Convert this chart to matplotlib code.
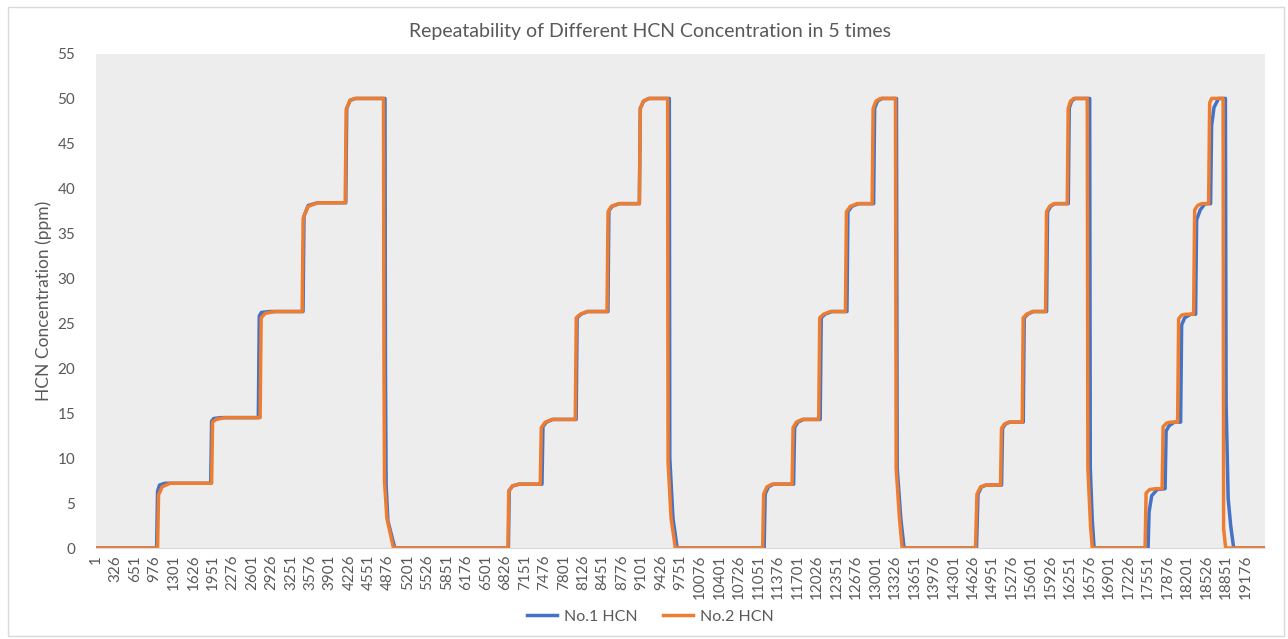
import matplotlib.pyplot as plt
from matplotlib.patches import Rectangle

# sample index (x) and HCN concentration in ppm (y) at the corners of each trace
no1_x = [1, 1012, 1027, 1060, 1150, 1914, 1929, 1965, 2080, 2708, 2724, 2760, 2900,
         3454, 3470, 3540, 3700, 4167, 4183, 4240, 4330, 4821, 4829, 4840, 4870, 4985,
         6880, 6893, 6950, 7060, 7440, 7456, 7515, 7620, 8010, 8026, 8090, 8200,
         8540, 8556, 8610, 8730, 9064, 9080, 9135, 9225, 9564, 9572, 9625, 9695,
         11146, 11163, 11217, 11303, 11637, 11654, 11709, 11804, 12081, 12098, 12160, 12276,
         12527, 12543, 12610, 12722, 12972, 12989, 13036, 13111, 13353, 13365, 13425, 13480,
         14688, 14713, 14772, 14855, 15106, 15122, 15172, 15244, 15468, 15484, 15540, 15635,
         15857, 15873, 15924, 15995, 16219, 16235, 16274, 16329, 16576, 16586, 16620, 16650,
         17550, 17567, 17610, 17700, 17834, 17851, 17900, 17990, 18093, 18110, 18160, 18260,
         18343, 18360, 18420, 18500, 18593, 18610, 18650, 18726, 18840, 18852, 18886, 18928,
         18978, 19500]
no1_y = [0, 0, 6.3, 7.0, 7.2, 7.2, 14.1, 14.4, 14.5, 14.5, 25.8, 26.2, 26.3,
         26.3, 36.9, 38.1, 38.4, 38.4, 48.9, 49.8, 50.0, 50.0, 20.0, 7.0, 3.0, 0,
         0, 6.4, 6.9, 7.1, 7.1, 13.5, 14.0, 14.3, 14.3, 25.6, 26.0, 26.3,
         26.3, 37.5, 38.0, 38.3, 38.3, 48.9, 49.7, 50.0, 50.0, 10.0, 3.3, 0,
         0, 6.0, 6.8, 7.1, 7.1, 13.4, 14.0, 14.3, 14.3, 25.6, 26.0, 26.3,
         26.3, 37.4, 38.0, 38.3, 38.3, 48.9, 49.7, 50.0, 50.0, 8.9, 3.3, 0,
         0, 6.0, 6.8, 7.0, 7.0, 13.3, 13.8, 14.0, 14.0, 25.6, 26.0, 26.3,
         26.3, 37.4, 38.0, 38.3, 38.3, 48.9, 49.7, 50.0, 50.0, 8.9, 3.0, 0,
         0, 4.0, 5.8, 6.5, 6.6, 13.0, 13.6, 14.0, 14.0, 24.8, 25.6, 26.0,
         26.0, 36.5, 37.6, 38.3, 38.3, 47.0, 49.0, 50.0, 50.0, 16.0, 5.5, 2.5,
         0, 0]

no2_x = [1, 1027, 1044, 1103, 1236, 1929, 1945, 2004, 2154, 2738, 2755, 2822, 2989,
         3439, 3456, 3539, 3706, 4157, 4174, 4240, 4324, 4796, 4804, 4813, 4853, 4963,
         6872, 6885, 6944, 7049, 7411, 7428, 7495, 7607, 7995, 8012, 8079, 8191,
         8525, 8542, 8596, 8718, 9064, 9080, 9130, 9219, 9536, 9543, 9593, 9665,
         11121, 11138, 11192, 11278, 11612, 11629, 11684, 11779, 12056, 12073, 12135, 12251,
         12502, 12518, 12585, 12697, 12947, 12964, 13011, 13086, 13336, 13348, 13403, 13448,
         14671, 14696, 14755, 14838, 15089, 15105, 15155, 15227, 15451, 15467, 15523, 15618,
         15840, 15856, 15907, 15978, 16202, 16218, 16257, 16312, 16536, 16546, 16590, 16619,
         17500, 17517, 17576, 17676, 17784, 17801, 17859, 17926, 18043, 18060, 18110, 18176,
         18310, 18327, 18378, 18443, 18560, 18577, 18610, 18802, 18810, 18844, 19500]
no2_y = [0, 0, 5.9, 6.8, 7.2, 7.2, 14.0, 14.3, 14.5, 14.5, 25.6, 26.1, 26.3,
         26.3, 36.7, 38.0, 38.4, 38.4, 48.8, 49.8, 50.0, 50.0, 20.7, 7.4, 3.3, 0,
         0, 6.3, 6.9, 7.1, 7.1, 13.4, 14.0, 14.3, 14.3, 25.6, 26.0, 26.3,
         26.3, 37.4, 38.0, 38.3, 38.3, 48.9, 49.7, 50.0, 50.0, 9.6, 3.3, 0,
         0, 6.0, 6.8, 7.1, 7.1, 13.4, 14.0, 14.3, 14.3, 25.6, 26.0, 26.3,
         26.3, 37.4, 38.0, 38.3, 38.3, 48.9, 49.7, 50.0, 50.0, 8.9, 3.3, 0,
         0, 6.0, 6.8, 7.0, 7.0, 13.3, 13.8, 14.0, 14.0, 25.6, 26.0, 26.3,
         26.3, 37.4, 38.0, 38.3, 38.3, 48.9, 49.7, 50.0, 50.0, 8.9, 2.5, 0,
         0, 6.1, 6.5, 6.6, 6.6, 13.5, 13.9, 14.0, 14.0, 25.5, 25.9, 26.0,
         26.0, 37.6, 38.1, 38.3, 38.3, 49.5, 50.0, 50.0, 2.2, 0, 0]

n_samples = 19500
tick_step = 325
tick_pos = list(range(1, n_samples, tick_step))
tick_labels = [str(t) for t in tick_pos]

BLUE = '#4472C4'
ORANGE = '#ED7D31'
TEXT = '#595959'

plt.rcParams['font.family'] = ['Lato', 'DejaVu Sans']

W, H = 1288, 639
fig = plt.figure(figsize=(W / 100, H / 100), dpi=100)
ax = fig.add_axes([96 / W, 1 - 548 / H, (1265 - 96) / W, (548 - 53.5) / H])
ax.set_facecolor('#EDEDED')

ax.plot(no1_x, no1_y, color=BLUE, lw=2.5, label='No.1 HCN', solid_joinstyle='round')
ax.plot(no2_x, no2_y, color=ORANGE, lw=2.5, label='No.2 HCN', solid_joinstyle='round')

ax.set_xlim(0.5, n_samples + 0.5)
ax.set_ylim(0, 55)
ax.set_yticks(range(0, 56, 5))
ax.set_xticks(tick_pos)
ax.set_xticklabels(tick_labels, rotation=90)
ax.tick_params(axis='both', length=0, labelsize=11, labelcolor=TEXT)
ax.tick_params(axis='x', pad=5)
ax.tick_params(axis='y', pad=15)

for side in ['top', 'right', 'left']:
    ax.spines[side].set_visible(False)
ax.spines['bottom'].set_color('#D9D9D9')

ax.set_ylabel('HCN Concentration (ppm)', fontsize=12.5, color=TEXT, labelpad=4)
fig.text(0.5047, 1 - 31 / H, 'Repeatability of Different HCN Concentration in 5 times',
         ha='center', va='center', fontsize=14, color=TEXT)

fig.legend(loc='center', bbox_to_anchor=(0.5047, 1 - 617 / H), ncol=2, frameon=False,
           fontsize=11.5, labelcolor=TEXT, handlelength=1.9, columnspacing=1.6,
           handletextpad=0.4)

fig.patches.append(Rectangle((8 / W, 3 / H), (1284 - 8) / W, (632 - 3) / H,
                             transform=fig.transFigure, fill=False,
                             edgecolor='#D9D9D9', lw=1))

fig.savefig('out.png', dpi=100)
